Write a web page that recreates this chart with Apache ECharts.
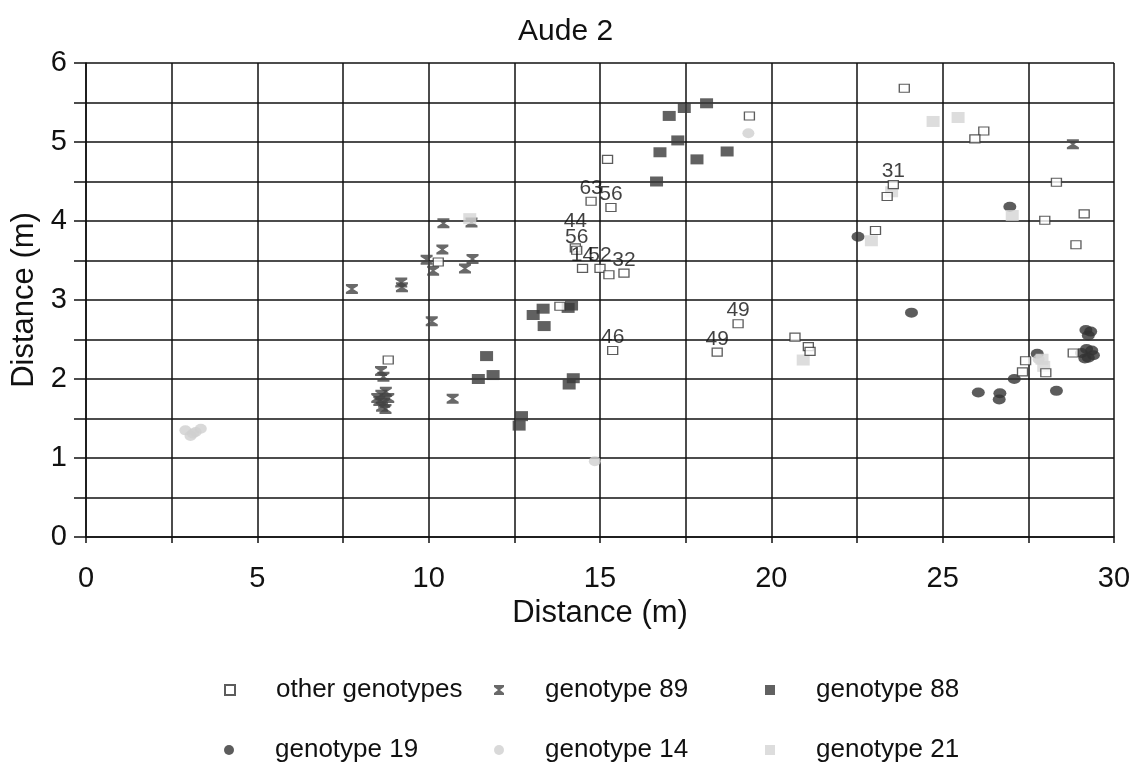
<!DOCTYPE html>
<html lang="en">
<head>
<meta charset="utf-8">
<title>Aude 2</title>
<script src="https://cdn.jsdelivr.net/npm/echarts@6/dist/echarts.min.js"></script>
<style>
  html, body { margin: 0; padding: 0; background: #fff; }
  #main { width: 1143px; height: 770px; }
</style>
</head>
<body>
<div id="main"></div>
<script>
// [x, y, label]
var otherGenotypes = [
  [23.88, 5.68, ''], [26.2, 5.14, ''], [25.94, 5.04, ''], [23.56, 4.46, '31'], [23.38, 4.31, ''],
  [23.04, 3.88, ''], [28.32, 4.49, ''], [29.13, 4.09, ''], [27.98, 4.01, ''], [28.89, 3.70, ''],
  [19.36, 5.33, ''], [15.22, 4.78, ''], [14.74, 4.25, '63'], [15.32, 4.17, '56'],
  [14.28, 3.66, '44'], [14.32, 3.63, '56'], [14.49, 3.40, '14'], [15.0, 3.40, '52'],
  [15.26, 3.32, ''], [15.7, 3.34, '32'], [8.82, 2.24, ''], [10.28, 3.48, ''], [13.83, 2.92, ''],
  [15.37, 2.36, '46'], [19.03, 2.70, '49'], [18.42, 2.34, '49'], [20.69, 2.53, ''],
  [21.08, 2.41, ''], [21.13, 2.35, ''], [27.42, 2.23, ''], [27.33, 2.09, ''], [28.01, 2.08, ''],
  [28.81, 2.33, '']
];
var genotype89 = [
  [7.76, 3.14], [9.2, 3.22], [9.22, 3.16], [10.43, 3.97], [11.25, 3.98], [10.4, 3.64], [9.94, 3.51],
  [10.13, 3.37], [11.28, 3.52], [11.06, 3.40], [10.09, 2.73], [8.61, 2.10], [8.68, 2.03],
  [8.5, 1.76], [8.62, 1.80], [8.75, 1.84], [8.7, 1.70], [8.82, 1.76], [8.64, 1.65], [8.74, 1.62],
  [8.56, 1.72], [10.7, 1.75], [28.8, 4.97]
];
var genotype88 = [
  [18.11, 5.49], [17.46, 5.43], [17.02, 5.33], [17.27, 5.02], [16.75, 4.87], [17.83, 4.78],
  [18.71, 4.88], [16.65, 4.50], [13.05, 2.81], [13.34, 2.89], [13.37, 2.67], [14.07, 2.90],
  [14.17, 2.93], [11.69, 2.29], [11.45, 2.00], [11.88, 2.05], [14.22, 2.01], [14.10, 1.93],
  [12.71, 1.53], [12.64, 1.41]
];
var genotype19 = [
  [22.53, 3.80], [26.96, 4.18], [24.09, 2.84], [26.04, 1.83], [26.67, 1.82], [26.65, 1.74],
  [27.09, 2.0], [27.76, 2.32], [28.32, 1.85], [29.18, 2.62], [29.32, 2.60], [29.25, 2.55],
  [29.05, 2.33], [29.2, 2.38], [29.35, 2.36], [29.25, 2.27], [29.4, 2.30], [29.15, 2.26]
];
var genotype14 = [
  [2.9, 1.35], [3.05, 1.28], [3.2, 1.33], [3.35, 1.37], [3.12, 1.31], [19.33, 5.11],
  [14.85, 0.96], [27.8, 2.25]
];
var genotype21 = [
  [24.72, 5.26], [25.45, 5.31], [23.51, 4.37], [22.92, 3.75], [27.03, 4.07], [20.93, 2.24],
  [11.2, 4.03], [27.95, 2.16], [27.9, 2.25]
];
var seriesNames = ['other genotypes', 'genotype 89', 'genotype 88', 'genotype 19', 'genotype 14', 'genotype 21'];

var myChart = echarts.init(document.getElementById('main'));
var font = 'Liberation Sans, Arial, sans-serif';
var hourglass = 'path://M0,0 L10,0 L10,2 L6,5 L10,8 L10,10 L0,10 L0,8 L4,5 L0,2 Z';

// label lifts for stacked number labels
var extraLift = { 14: 14 };

var otherData = otherGenotypes.map(function (p, i) {
  var item = { value: [p[0], p[1]] };
  if (p[2]) {
    item.label = {
      show: true, formatter: p[2], position: 'top', distance: -2,
      offset: [0, -(extraLift[i] || 0)],
      color: '#111', fontSize: 21, fontFamily: font
    };
  }
  return item;
});

function legendAt(name, left, top) {
  return {
    data: [name], left: left, top: top, padding: 0,
    itemWidth: 10, itemHeight: 10,
    selectedMode: false,
    textStyle: { fontSize: 26, color: '#111', fontFamily: font, padding: [0, 0, 0, 36] }
  };
}

var option = {
  animation: false,
  backgroundColor: '#fff',
  title: {
    text: 'Aude 2', left: 513, top: 12,
    textStyle: { fontSize: 30, fontWeight: 'normal', color: '#111', fontFamily: font }
  },
  legend: [
    legendAt(seriesNames[0], 224, 677),
    legendAt(seriesNames[1], 494, 677),
    legendAt(seriesNames[2], 765, 677),
    legendAt(seriesNames[3], 224, 737),
    legendAt(seriesNames[4], 494, 737),
    legendAt(seriesNames[5], 765, 737)
  ],
  grid: { left: 86, right: 29, top: 63, bottom: 233 },
  xAxis: {
    type: 'value', min: 0, max: 30, interval: 2.5,
    name: 'Distance (m)', nameLocation: 'middle', nameGap: 57,
    nameTextStyle: { fontSize: 31, color: '#111', fontFamily: font },
    axisLine: { lineStyle: { color: '#111', width: 1.5 } },
    axisTick: { show: true, length: 6, lineStyle: { color: '#111', width: 1.5 } },
    axisLabel: {
      fontSize: 29, color: '#111', fontFamily: font, margin: 27,
      formatter: function (v) { return v % 5 === 0 ? String(v) : ''; }
    },
    splitLine: { show: true, lineStyle: { color: '#111', width: 1.5 } }
  },
  yAxis: {
    type: 'value', min: 0, max: 6, interval: 0.5,
    name: 'Distance (m)', nameLocation: 'middle', nameGap: 40,
    nameTextStyle: { fontSize: 31, color: '#111', fontFamily: font },
    axisLine: { lineStyle: { color: '#111', width: 1.5 } },
    axisTick: { show: true, length: 12, lineStyle: { color: '#111', width: 1.5 } },
    axisLabel: {
      fontSize: 29, color: '#111', fontFamily: font, margin: 19,
      formatter: function (v) { return v % 1 === 0 ? String(v) : ''; }
    },
    splitLine: { show: true, lineStyle: { color: '#111', width: 1.5 } }
  },
  series: [
    {
      name: seriesNames[0], type: 'scatter', symbol: 'rect', symbolSize: [10, 8],
      itemStyle: { color: '#fff', borderColor: '#333', borderWidth: 1.2 },
      data: otherData, z: 3
    },
    {
      name: seriesNames[1], type: 'scatter', symbol: hourglass, symbolSize: [12, 10],
      itemStyle: { color: '#444' }, data: genotype89
    },
    {
      name: seriesNames[2], type: 'scatter', symbol: 'rect', symbolSize: [13, 10],
      itemStyle: { color: '#3a3a3a' }, data: genotype88
    },
    {
      name: seriesNames[3], type: 'scatter', symbol: 'circle', symbolSize: [13, 10],
      itemStyle: { color: '#333' }, data: genotype19
    },
    {
      name: seriesNames[4], type: 'scatter', symbol: 'circle', symbolSize: [12, 10],
      itemStyle: { color: '#cfcfcf' }, data: genotype14
    },
    {
      name: seriesNames[5], type: 'scatter', symbol: 'rect', symbolSize: [13, 11],
      itemStyle: { color: '#d4d4d4' }, data: genotype21
    }
  ]
};

myChart.setOption(option);
</script>
</body>
</html>
